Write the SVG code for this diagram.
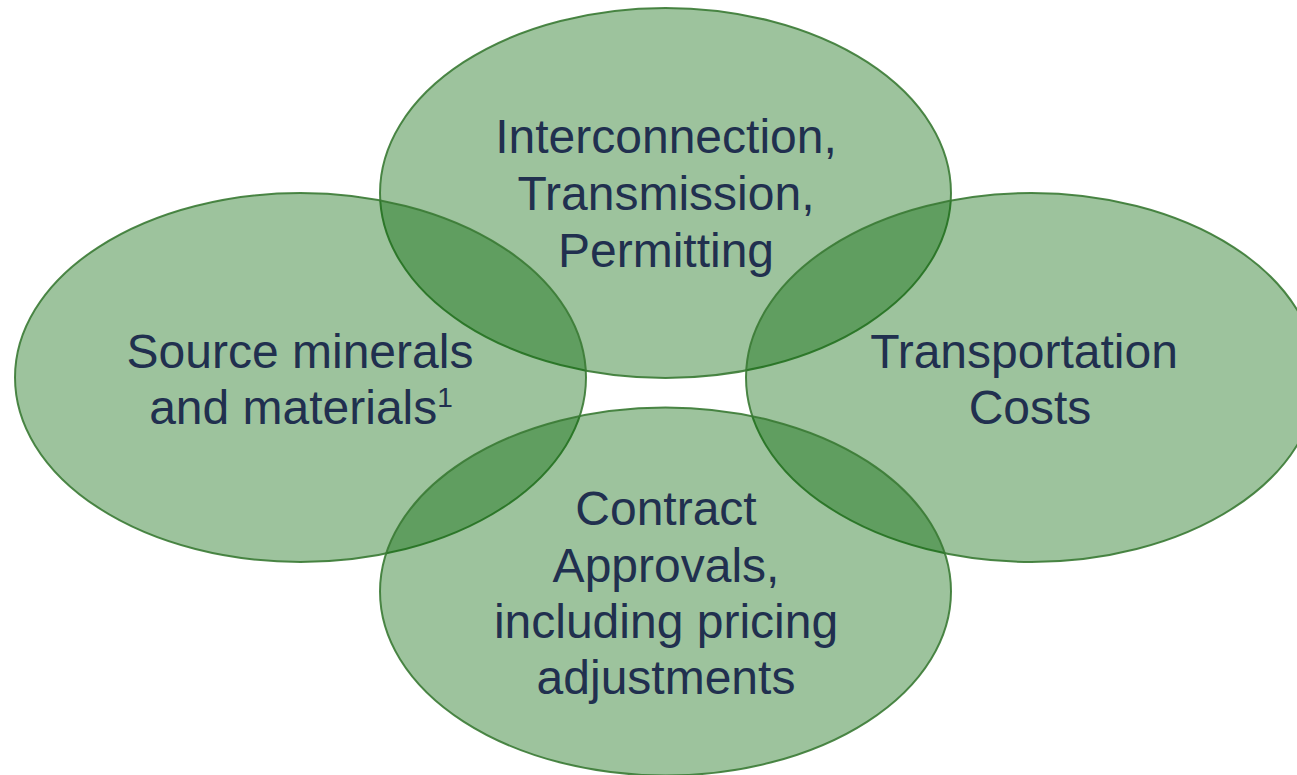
<svg xmlns="http://www.w3.org/2000/svg" width="1297" height="775" viewBox="0 0 1297 775">
<style>
.el{fill:#006400;fill-opacity:0.385;stroke:#3a7a34;stroke-width:2;stroke-opacity:0.9}
.t{font-family:"Liberation Sans",Arial,sans-serif;font-size:48px;fill:#21304f;text-anchor:middle}
</style>
<rect width="1297" height="775" fill="#ffffff"/>
<g id="node-top">
<ellipse class="el" cx="665.5" cy="193" rx="285.5" ry="185"/>
<text class="t" x="666" y="153">Interconnection,</text>
<text class="t" x="666" y="210">Transmission,</text>
<text class="t" x="666" y="267">Permitting</text>
</g>
<g id="node-left">
<ellipse class="el" cx="300.5" cy="377.5" rx="285.5" ry="184.5"/>
<text class="t" x="300" y="368">Source minerals</text>
<text class="t" x="301" y="424">and materials<tspan font-size="28" dy="-17">1</tspan></text>
</g>
<g id="node-right">
<ellipse class="el" cx="1031.5" cy="377.5" rx="285.5" ry="184.5"/>
<text class="t" x="1024" y="368">Transportation</text>
<text class="t" x="1030" y="424">Costs</text>
</g>
<g id="node-bottom">
<ellipse class="el" cx="665.5" cy="591.5" rx="285.5" ry="184"/>
<text class="t" x="666" y="525">Contract</text>
<text class="t" x="666" y="582">Approvals,</text>
<text class="t" x="666" y="638">including pricing</text>
<text class="t" x="666" y="694">adjustments</text>
</g>
<g id="connectors"/>
</svg>
